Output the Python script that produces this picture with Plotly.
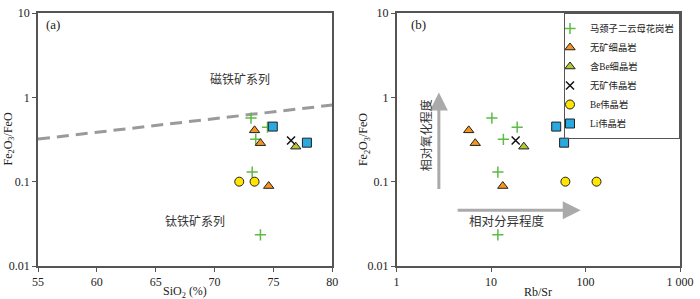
import plotly.graph_objects as go
import math

# ---------------- data ----------------
series_names = ["马颈子二云母花岗岩", "无矿细晶岩", "含Be细晶岩", "无矿伟晶岩", "Be伟晶岩", "Li伟晶岩"]

granite_sio2 = [73.1, 74.5, 73.5, 73.2, 73.9]
granite_rbsr = [10.2, 18.9, 13.5, 11.8, 11.8]
granite_ratio = [0.567, 0.443, 0.318, 0.130, 0.0234]

barren_aplite_sio2 = [73.4, 73.9, 74.6]
barren_aplite_rbsr = [5.8, 6.8, 13.3]
barren_aplite_ratio = [0.406, 0.286, 0.0887]

be_aplite_sio2 = [76.9]
be_aplite_rbsr = [22.2]
be_aplite_ratio = [0.26]

barren_peg_sio2 = [76.5]
barren_peg_rbsr = [18.2]
barren_peg_ratio = [0.307]

be_peg_sio2 = [72.1, 73.4]
be_peg_rbsr = [61.2, 130.7]
be_peg_ratio = [0.1, 0.1]

li_peg_sio2 = [74.95, 77.85]
li_peg_rbsr = [48.9, 59.3]
li_peg_ratio = [0.45, 0.29]

boundary_sio2 = [55, 80]
boundary_ratio = [0.32, 0.81]

y_ticks = [0.01, 0.1, 1, 10]
y_ticktext = ["0.01", "0.1", "1", "10"]
xa_ticks = [55, 60, 65, 70, 75, 80]
xb_ticks = [1, 10, 100, 1000]
xb_ticktext = ["1", "10", "100", "1 000"]

# ---------------- styles ----------------
styles = [
    dict(symbol="cross-thin", size=8, color="#5dbb46", line=dict(color="#5dbb46", width=1.5)),
    dict(symbol="triangle-up", size=9, color="#f7941d", line=dict(color="#222", width=1)),
    dict(symbol="triangle-up", size=9, color="#b5c637", line=dict(color="#222", width=1)),
    dict(symbol="x-thin", size=8, color="#111", line=dict(color="#111", width=1.5)),
    dict(symbol="circle", size=9, color="#ffe500", line=dict(color="#222", width=1)),
    dict(symbol="square", size=9, color="#29a9df", line=dict(color="#222", width=1)),
]

sio2_sets = [granite_sio2, barren_aplite_sio2, be_aplite_sio2, barren_peg_sio2, be_peg_sio2, li_peg_sio2]
rbsr_sets = [granite_rbsr, barren_aplite_rbsr, be_aplite_rbsr, barren_peg_rbsr, be_peg_rbsr, li_peg_rbsr]
ratio_sets = [granite_ratio, barren_aplite_ratio, be_aplite_ratio, barren_peg_ratio, be_peg_ratio, li_peg_ratio]

fig = go.Figure()

fig.add_trace(go.Scatter(x=boundary_sio2, y=boundary_ratio, mode="lines",
                         line=dict(color="#9a9a9a", width=3, dash="12px,7px"),
                         showlegend=False, hoverinfo="skip", xaxis="x", yaxis="y"))

for name, st, xs, ys in zip(series_names, styles, sio2_sets, ratio_sets):
    fig.add_trace(go.Scatter(x=xs, y=ys, mode="markers", marker=st, name=name,
                             showlegend=False, xaxis="x", yaxis="y"))
for name, st, xs, ys in zip(series_names, styles, rbsr_sets, ratio_sets):
    fig.add_trace(go.Scatter(x=xs, y=ys, mode="markers", marker=st, name=name,
                             showlegend=True, xaxis="x2", yaxis="y2"))

serif = "Liberation Serif, Noto Sans CJK SC, serif"
cjk = "Noto Sans CJK SC, sans-serif"
axcol = "#555"

common_axis = dict(showline=True, mirror=True, linecolor=axcol, linewidth=1.5,
                   ticks="outside", ticklen=4, tickcolor=axcol, showgrid=False, zeroline=False,
                   ticklabeloverflow="allow",
                   tickfont=dict(family=serif, size=12, color="#222"))

fig.update_layout(
    width=700, height=299, autosize=False,
    margin=dict(l=38, r=14, t=6, b=33),
    paper_bgcolor="white", plot_bgcolor="white",
    xaxis=dict(domain=[0, 0.4583], range=[55, 80], tickvals=xa_ticks, anchor="y", **common_axis),
    yaxis=dict(domain=[0, 1], type="log", range=[-2, 1], tickvals=y_ticks, ticktext=y_ticktext,
               anchor="x", **common_axis),
    xaxis2=dict(domain=[0.5586, 1], type="log", range=[0, 3], tickvals=xb_ticks, ticktext=xb_ticktext,
                anchor="y2", **common_axis),
    yaxis2=dict(domain=[0, 1], type="log", range=[-2, 1], tickvals=y_ticks, ticktext=y_ticktext,
                anchor="x2", **common_axis),
    legend=dict(x=1, xanchor="right", y=1, yanchor="top", bgcolor="rgba(255,255,255,0)",
                bordercolor=axcol, borderwidth=1, indentation=-15,
                font=dict(family=serif, size=9.3, color="#222"),
                tracegroupgap=0, itemwidth=30),
    showlegend=True,
)

ann = []
# panel labels
ann.append(dict(text="(a)", x=0, xref="paper", y=0.955, yref="paper", showarrow=False,
                xanchor="left", yanchor="middle", font=dict(family=serif, size=13, color="#222"),
                xshift=6))
ann.append(dict(text="(b)", x=0.5586, xref="paper", y=0.955, yref="paper", showarrow=False,
                xanchor="left", yanchor="middle", font=dict(family=serif, size=13, color="#222"),
                xshift=12))
# axis titles
ann.append(dict(text="Fe<sub>2</sub>O<sub>3</sub>/FeO", x=0, xref="paper", y=0.5, yref="paper",
                showarrow=False, textangle=-90, xanchor="center", yanchor="middle", xshift=-30,
                font=dict(family=serif, size=12, color="#222")))
ann.append(dict(text="Fe<sub>2</sub>O<sub>3</sub>/FeO", x=0.5586, xref="paper", y=0.5, yref="paper",
                showarrow=False, textangle=-90, xanchor="center", yanchor="middle", xshift=-33,
                font=dict(family=serif, size=12, color="#222")))
ann.append(dict(text="SiO<sub>2</sub> (%)", x=0.229, xref="paper", y=0, yref="paper",
                showarrow=False, xanchor="center", yanchor="middle", yshift=-26,
                font=dict(family=serif, size=12, color="#222")))
ann.append(dict(text="Rb/Sr", x=0.779, xref="paper", y=0, yref="paper",
                showarrow=False, xanchor="center", yanchor="middle", yshift=-26,
                font=dict(family=serif, size=12, color="#222")))
# field labels (a)
ann.append(dict(text="磁铁矿系列", x=72.15, xref="x", y=math.log10(1.66), yref="y", showarrow=False,
                font=dict(family=cjk, size=12, color="#333")))
ann.append(dict(text="钛铁矿系列", x=68.36, xref="x", y=math.log10(0.0347), yref="y", showarrow=False,
                font=dict(family=cjk, size=12, color="#333")))
# arrows (b)
ann.append(dict(x=math.log10(2.8), y=0.057, xref="x2", yref="y2",
                ax=math.log10(2.8), ay=-1.106, axref="x2", ayref="y2",
                showarrow=True, arrowhead=2, arrowsize=1.2, arrowwidth=3, arrowcolor="#aaaaaa", text=""))
ann.append(dict(x=1.949, y=-1.338, xref="x2", yref="y2",
                ax=0.63, ay=-1.338, axref="x2", ayref="y2",
                showarrow=True, arrowhead=2, arrowsize=1.2, arrowwidth=3, arrowcolor="#aaaaaa", text=""))
ann.append(dict(text="相对分异程度", x=1.172, xref="x2", y=-1.46, yref="y2", showarrow=False,
                font=dict(family=cjk, size=12.5, color="#333")))
ann.append(dict(text="相对氧化程度", x=math.log10(2.0), xref="x2", y=-0.45, yref="y2", showarrow=False,
                textangle=-90, font=dict(family=cjk, size=12, color="#333")))
fig.update_layout(annotations=ann)

fig.write_html("out.html", config={"displayModeBar": False},
               post_script="document.body.style.margin='0';document.body.style.overflow='hidden';")
